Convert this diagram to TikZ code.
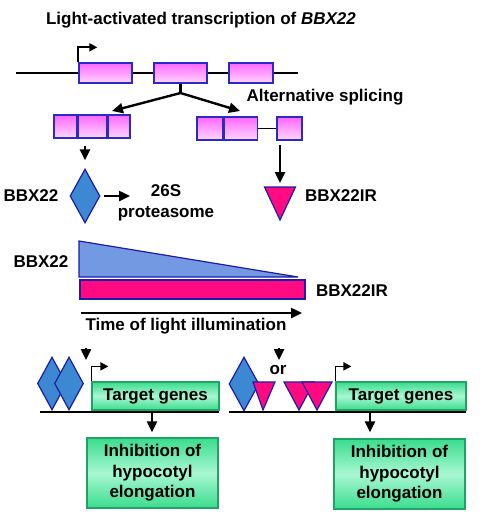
\documentclass[tikz,border=0pt]{standalone}
\usepackage{fontspec}
\setmainfont{Liberation Sans}
\usetikzlibrary{shapes.geometric,positioning,arrows.meta}

\definecolor{exonline}{HTML}{2A2AC8}
\definecolor{exontop}{HTML}{FF66FF}
\definecolor{exonbot}{HTML}{FFD8FF}
\definecolor{bbxblue}{HTML}{3C88D2}
\definecolor{wedgeblue}{HTML}{7399E2}
\definecolor{darkblue}{HTML}{1C1CA8}
\definecolor{irpink}{HTML}{FF0A80}
\definecolor{geneedge}{HTML}{3ADC8E}
\definecolor{genemid}{HTML}{A8F7D2}
\definecolor{geneline}{HTML}{1FA463}

\begin{document}
\begin{tikzpicture}[x=1pt,y=-1pt,
    font=\fontsize{17}{20.5}\selectfont\bfseries,
    arr/.style={-{Triangle[length=11pt,width=10pt]},line width=2.4pt},
    prom/.style={-{Triangle[length=8pt,width=8pt]},line width=1.8pt},
    dna/.style={line width=2.6pt},
    exon/.style={draw=exonline,line width=1.4pt,top color=exontop,bottom color=exonbot,inner sep=0pt},
    bbx/.style={diamond,draw=darkblue,line width=1.2pt,fill=bbxblue,inner sep=0pt,minimum width=30pt,minimum height=54pt},
    irtri/.style={fill=irpink,draw=darkblue,line width=1.2pt},
    target/.style={draw=geneline,line width=1.2pt,top color=geneedge,bottom color=geneedge,middle color=genemid,inner sep=0pt}]
      \useasboundingbox (0,0) rectangle (484,519);
      % gene and splicing
      \node (title) at (201,20) {Light-activated transcription of \textit{BBX22}};
      \node[exon,minimum width=53pt,minimum height=20pt] (ex1) at (105.5,73) {};
      \node[exon,minimum width=53pt,minimum height=20pt] (ex2) at (180.5,73) {};
      \node[exon,minimum width=44pt,minimum height=20pt] (ex3) at (251,73) {};
      \coordinate (gL) at (16,73);
      \coordinate (gR) at (298,73);
      \draw[dna] (gL)--(ex1.west) (ex1.east)--(ex2.west) (ex2.east)--(ex3.west) (ex3.east)--(gR);
      \draw[prom] (ex1.north west) |- ++(19,-15);
      \coordinate (sp) at (180.5,93);
      \coordinate (s1) at (112,111);
      \coordinate (s2) at (240,111);
      \draw[line width=2.4pt] (ex2.south)--(sp);
      \draw[arr] (sp)--(s1);
      \draw[arr] (sp)--(s2);
      \node (alt) at (325,97) {Alternative splicing};
      \node[exon,minimum width=23pt,minimum height=23pt] (m1a) at (65.5,126.5) {};
      \node[exon,minimum width=28pt,minimum height=23pt,right=0pt of m1a] (m1b) {};
      \node[exon,minimum width=22pt,minimum height=23pt,right=0pt of m1b] (m1c) {};
      \node[exon,minimum width=26pt,minimum height=23pt] (m2a) at (210,128.5) {};
      \node[exon,minimum width=33pt,minimum height=23pt,right=0pt of m2a] (m2b) {};
      \node[exon,minimum width=25pt,minimum height=23pt] (m2c) at (289.5,128.5) {};
      \draw[line width=1.4pt] (m2b)--(m2c);
      % proteins
      \node[bbx] (d1) at (85,196) {};
      \coordinate (a1) at (85,146);
      \draw[arr,shorten >=8pt] (a1)--(d1.north);
      \node (lab1) at (31,196) {BBX22};
      \coordinate (pa) at (130,196);
      \draw[arr,shorten <=3pt] (d1.east)--(pa);
      \node[align=center] (prot) at (166,203) {26S\\proteasome};
      \coordinate (a2) at (280,145);
      \coordinate (irtop) at (280,183);
      \draw[arr] (a2)--(irtop);
      \filldraw[irtri] (264.5,187)--(295.5,187)--(280,220)--cycle;
      \node (lab2) at (341,196) {BBX22IR};
      % levels over time
      \filldraw[fill=wedgeblue,draw=darkblue,line width=1.2pt] (79,241)--(298,277)--(79,277)--cycle;
      \filldraw[fill=irpink,draw=darkblue,line width=1.2pt] (80,280) rectangle (305,299);
      \node (lab3) at (41,262) {BBX22};
      \node (lab4) at (352,291) {BBX22IR};
      \coordinate (t0) at (81,313);
      \coordinate (t1) at (302,313);
      \draw[arr] (t0)--(t1);
      \node (time) at (186,326) {Time of light illumination};
      \coordinate (b1) at (86,348);
      \coordinate (b2) at (279,348);
      \draw[arr] (b1)--++(0,12);
      \draw[arr] (b2)--++(0,12);
      \node (or) at (278,370) {or};
      % left promoter
      \node[bbx,minimum width=29pt,minimum height=53pt] (dA) at (52,383.5) {};
      \node[bbx,minimum width=29pt,minimum height=53pt] (dB) at (69,383.5) {};
      \node[target,minimum width=127pt,minimum height=28pt] (tgL) at (155.5,396) {Target genes};
      \draw[prom] (tgL.north west) |- ++(17,-15);
      \coordinate (lL) at (40,412);
      \coordinate (lR) at (219,412);
      \draw[dna] (lL)--(lR);
      \node[target,minimum width=131pt,minimum height=70pt,align=center] (inhL) at (152.5,473) {Inhibition of\\hypocotyl\\elongation};
      \coordinate (aL) at (152,412);
      \draw[arr,shorten >=5pt] (aL)--(aL |- inhL.north);
      % right promoter
      \node[bbx] (dC) at (244,384) {};
      \filldraw[irtri] (253,382)--(275,382)--(263,410)--cycle;
      \filldraw[irtri] (284,382)--(314,382)--(299,410)--cycle;
      \filldraw[irtri] (302,382)--(332,382)--(317,410)--cycle;
      \node[target,minimum width=130pt,minimum height=28pt] (tgR) at (401,396) {Target genes};
      \draw[prom] (tgR.north west) |- ++(16,-15);
      \coordinate (rL) at (229,412);
      \coordinate (rR) at (466,412);
      \draw[dna] (rL)--(rR);
      \node[target,minimum width=131pt,minimum height=70pt,align=center] (inhR) at (399.5,474) {Inhibition of\\hypocotyl\\elongation};
      \coordinate (aR) at (370,412);
      \draw[arr,shorten >=6pt] (aR)--(aR |- inhR.north);
    \end{tikzpicture}
\end{document}
